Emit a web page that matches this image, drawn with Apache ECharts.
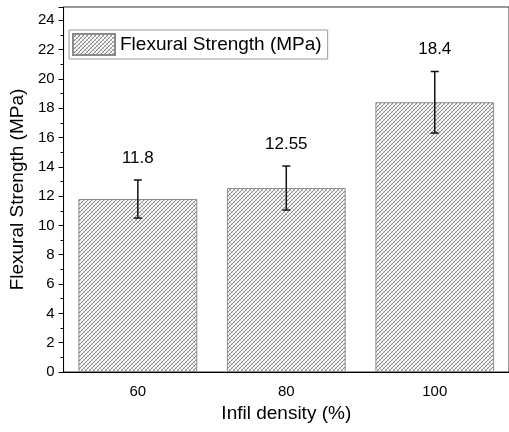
<!DOCTYPE html>
<html><head><meta charset="utf-8">
<script src="https://cdn.jsdelivr.net/npm/echarts@6/dist/echarts.min.js"></script>
<style>html,body{margin:0;padding:0;background:#fff}#c{width:509px;height:432px}</style>
</head><body><div id="c"></div>
<script>
const categories = ['60', '80', '100'];
const strength = [11.8, 12.55, 18.4];
const errors = [1.3, 1.5, 2.1];
const valueLabels = ['11.8', '12.55', '18.4'];
const seriesName = 'Flexural Strength (MPa)';
const xTitle = 'Infil density (%)';
const yTitle = 'Flexural Strength (MPa)';

function makePattern() {
  const c = document.createElement('canvas');
  c.width = 4; c.height = 4;
  const g = c.getContext('2d');
  g.fillStyle = '#ffffff'; g.fillRect(0, 0, 4, 4);
  for (let i = 0; i < 4; i++) {
    g.fillStyle = '#858585'; g.fillRect(i, 3 - i, 1, 1);
    g.fillStyle = '#cfcfcf'; g.fillRect(i, i, 1, 1);
  }
  return c;
}
const pattern = { image: makePattern(), repeat: 'repeat' };
const FONT = '"Liberation Sans", Arial, sans-serif';

const chart = echarts.init(document.getElementById('c'), null, { renderer: 'canvas' });
chart.setOption({
  animation: false,
  backgroundColor: '#fff',
  textStyle: { fontFamily: FONT, color: '#000' },
  grid: { left: 62, top: 7, width: 453, height: 365, show: true, borderColor: '#333', borderWidth: 1 },
  legend: {
    data: [seriesName], left: 69, top: 30, padding: [3, 6, 3, 3],
    itemWidth: 42, itemHeight: 21, icon: 'rect',
    borderColor: '#999', borderWidth: 1, borderRadius: 0,
    textStyle: { fontSize: 19, color: '#000', fontFamily: FONT }
  },
  xAxis: [{
    type: 'category', data: categories, position: 'bottom',
    axisLine: { lineStyle: { color: '#000' } },
    axisTick: { alignWithLabel: true, length: 5, lineStyle: { color: '#000' } },
    axisLabel: { fontSize: 15, color: '#000', margin: 12, fontFamily: FONT },
    name: xTitle, nameLocation: 'middle', nameGap: 31,
    nameTextStyle: { fontSize: 19, color: '#000', fontFamily: FONT }
  }, {
    type: 'category', data: categories, position: 'bottom',
    axisLine: { show: false },
    axisTick: { length: 3, lineStyle: { color: '#000' } },
    axisLabel: { show: false }
  }],
  yAxis: {
    type: 'value', min: 0, max: 24.9, interval: 2,
    axisLine: { show: true, lineStyle: { color: '#000' } },
    axisTick: { show: true, length: 5, lineStyle: { color: '#000' } },
    minorTick: { show: true, splitNumber: 2, length: 3, lineStyle: { color: '#000' } },
    splitLine: { show: false },
    axisLabel: { fontSize: 15, color: '#000', margin: 9, showMaxLabel: false, fontFamily: FONT },
    name: yTitle, nameLocation: 'middle', nameGap: 36,
    nameTextStyle: { fontSize: 19, color: '#000', fontFamily: FONT }
  },
  series: [{
    name: seriesName, type: 'bar', data: strength, barWidth: '80%',
    itemStyle: { color: pattern, borderColor: '#8a8a8a', borderWidth: 1 }
  }, {
    type: 'custom', z: 5,
    data: strength.map((v, i) => [i, v, errors[i]]),
    encode: { x: 0, y: 1 },
    renderItem: function (params, api) {
      const i = api.value(0), v = api.value(1), e = api.value(2);
      const hi = api.coord([i, v + e]);
      const lo = api.coord([i, v - e]);
      const x = hi[0], cw = 4;
      const st = { stroke: '#111', lineWidth: 1.5 };
      return {
        type: 'group', children: [
          { type: 'line', shape: { x1: x, y1: hi[1], x2: x, y2: lo[1] }, style: st },
          { type: 'line', shape: { x1: x - cw, y1: hi[1], x2: x + cw, y2: hi[1] }, style: st },
          { type: 'line', shape: { x1: x - cw, y1: lo[1], x2: x + cw, y2: lo[1] }, style: st },
          { type: 'text', x: x, y: hi[1] - 22, style: { text: valueLabels[params.dataIndex], align: 'center', verticalAlign: 'middle', fontSize: 17, fontFamily: FONT, fill: '#000' } }
        ]
      };
    }
  }]
});
</script>
</body></html>
